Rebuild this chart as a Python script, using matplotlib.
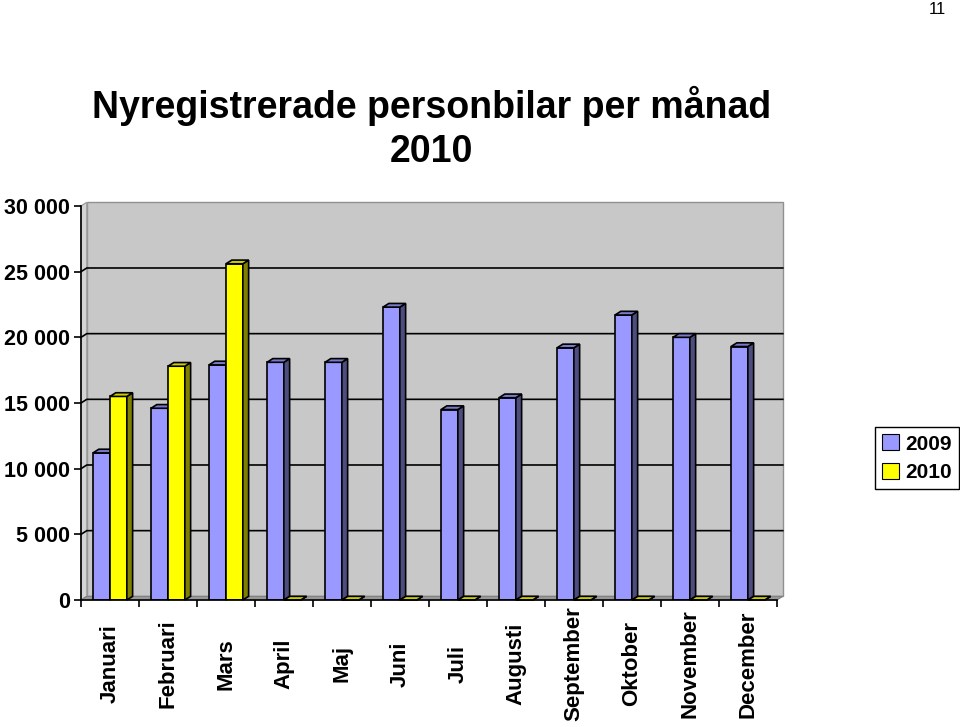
import matplotlib
matplotlib.use('Agg')
import matplotlib.pyplot as plt
from matplotlib.patches import Polygon, Patch
from matplotlib.ticker import FuncFormatter

plt.rcParams['font.family'] = ['Liberation Sans', 'DejaVu Sans']

months = ['Januari', 'Februari', 'Mars', 'April', 'Maj', 'Juni', 'Juli',
          'Augusti', 'September', 'Oktober', 'November', 'December']
cars_2009 = [11200, 14600, 17900, 18100, 18100, 22300, 14500, 15400,
             19200, 21700, 20000, 19300]
cars_2010 = [15500, 17800, 25600, 0, 0, 0, 0, 0, 0, 0, 0, 0]
y_ticks = [0, 5000, 10000, 15000, 20000, 25000, 30000]

series = [
    ('2009', cars_2009, 0.207, '#9999FF', '#4D4D80', '#7A7ACC'),
    ('2010', cars_2010, 0.5, '#FFFF00', '#808000', '#CCCC00'),
]

fig = plt.figure(figsize=(9.6, 7.27), dpi=100)
ax = fig.add_axes([81 / 960, 127 / 727, 696 / 960, 394 / 727])
n = len(months)
ymax = y_ticks[-1]
ax.set_xlim(0, n)
ax.set_ylim(0, ymax)

# depth of the fake 3d effect, in data units
dx, dy = 0.1, 280

# walls and floor
ax.add_patch(Polygon([(dx, dy), (n + dx, dy), (n + dx, ymax + dy), (dx, ymax + dy)],
                     facecolor='#C8C8C8', edgecolor='#909090', lw=1, clip_on=False, zorder=0))
ax.add_patch(Polygon([(0, 0), (dx, dy), (dx, ymax + dy), (0, ymax)],
                     facecolor='#D4D4D4', edgecolor='#A0A0A0', lw=1, clip_on=False, zorder=0))
ax.add_patch(Polygon([(0, 0), (n, 0), (n + dx, dy), (dx, dy)],
                     facecolor='#989898', edgecolor='#808080', lw=0.8, clip_on=False, zorder=1))
for v in y_ticks[1:-1]:
    ax.plot([0, dx, n + dx], [v, v + dy, v + dy], color='black', lw=1.2, zorder=1, clip_on=False)

w = 0.29
for name, vals, off, front, side, top in series:
    for i, v in enumerate(vals):
        x = i + off
        ax.bar(x, v, width=w, align='edge', color=front, edgecolor='black', lw=1.2, zorder=3)
        ax.add_patch(Polygon([(x + w, 0), (x + w + dx, dy), (x + w + dx, v + dy), (x + w, v)],
                             facecolor=side, edgecolor='black', lw=1.2, zorder=3, clip_on=False))
        ax.add_patch(Polygon([(x, v), (x + w, v), (x + w + dx, v + dy), (x + dx, v + dy)],
                             facecolor=top, edgecolor='black', lw=1.2, zorder=3, clip_on=False))

# axes
for s in ['top', 'right']:
    ax.spines[s].set_visible(False)
ax.spines['left'].set_linewidth(1.2)
ax.spines['bottom'].set_linewidth(1.2)
ax.spines['bottom'].set_zorder(5)
ax.set_yticks(y_ticks)
ax.yaxis.set_major_formatter(FuncFormatter(lambda v, p: '{:,.0f}'.format(v).replace(',', ' ')))
ax.tick_params(axis='y', length=5, width=1.2, pad=3, labelsize=15.5)
for lbl in ax.get_yticklabels():
    lbl.set_fontweight('bold')
ax.set_xticks(range(n + 1))
ax.set_xticklabels([])
ax.tick_params(axis='x', which='major', length=5, width=1.2)
ax.set_xticks([i + 0.5 for i in range(n)], minor=True)
ax.set_xticklabels(months, minor=True, rotation=90, fontweight='bold', fontsize=16, va='center')
ax.tick_params(axis='x', which='minor', length=0, pad=46)
ax.set_facecolor('none')

fig.text(0.4495, 1 - 118 / 727, 'Nyregistrerade personbilar per månad',
         ha='center', va='baseline', fontsize=27, fontweight='bold')
fig.text(0.4495, 1 - 162 / 727, '2010',
         ha='center', va='baseline', fontsize=27, fontweight='bold')
fig.text(946 / 960, 1 - 9 / 727, '11', ha='right', va='center', fontsize=12)

handles = [Patch(facecolor=s[3], edgecolor='black', lw=0.8) for s in series]
leg = fig.legend(handles, [s[0] for s in series], loc='upper left',
                 bbox_to_anchor=(875 / 960, 1 - 427 / 727),
                 frameon=True, fancybox=False, edgecolor='black', framealpha=1,
                 handlelength=0.8, handleheight=0.8, handletextpad=0.3,
                 borderpad=0.35, labelspacing=0.45, borderaxespad=0,
                 prop={'size': 15, 'weight': 'bold'})
leg.get_frame().set_linewidth(1)

fig.savefig('out.png', dpi=100)
